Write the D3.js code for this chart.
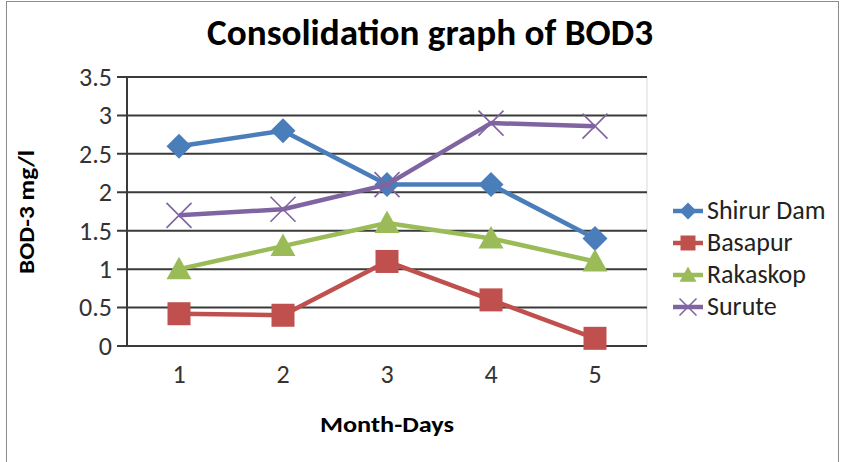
<!DOCTYPE html>
<html>
<head>
<meta charset="utf-8">
<script src="https://cdn.jsdelivr.net/npm/d3@7"></script>
<style>
  body { margin: 0; background: #fff; }
  text { font-family: Calibri, Carlito, "Open Sans", sans-serif; }
</style>
</head>
<body>
<div id="container"></div>
<script>
let w = 844;
let h = 462;

// data
let days = [1, 2, 3, 4, 5];
let shirurDam = [2.6, 2.8, 2.1, 2.1, 1.4];
let basapur = [0.42, 0.4, 1.1, 0.6, 0.1];
let rakaskop = [1.0, 1.3, 1.6, 1.4, 1.1];
let surute = [1.7, 1.78, 2.1, 2.9, 2.86];
let yTicks = [0, 0.5, 1, 1.5, 2, 2.5, 3, 3.5];

let seriesNames = ['Shirur Dam', 'Basapur', 'Rakaskop', 'Surute'];
let seriesColors = ['#4a7ebb', '#c0504d', '#9bbb59', '#8064a2'];
let seriesShapes = ['diamond', 'square', 'triangle', 'cross'];
let seriesValues = [shirurDam, basapur, rakaskop, surute];

let series = seriesNames.map((name, i) => ({
  name: name,
  color: seriesColors[i],
  shape: seriesShapes[i],
  values: seriesValues[i].map((v, j) => ({ day: days[j], value: v }))
}));

let margin = { left: 127, right: 197, top: 77, bottom: 116 };
let font = 'Calibri, Carlito, "Open Sans", sans-serif';

let svg = d3.select('#container').append('svg')
            .attr('width', w)
            .attr('height', h);

// outer chart border
svg.append('rect')
   .attr('x', 6.5).attr('y', 1.5)
   .attr('width', 832).attr('height', 470)
   .attr('fill', 'none')
   .attr('stroke', '#8c8c8c')
   .attr('stroke-width', 1);

let xScale = d3.scaleBand()
               .domain(days)
               .range([margin.left, w - margin.right]);

let yScale = d3.scaleLinear()
               .domain([0, 3.5])
               .range([h - margin.bottom, margin.top]);

// faint plot border on the right
svg.append('line')
   .attr('x1', w - margin.right).attr('x2', w - margin.right)
   .attr('y1', margin.top).attr('y2', h - margin.bottom)
   .attr('stroke', '#d9d9d9');

// gridlines
svg.append('g')
   .selectAll('line')
   .data(yTicks)
   .enter()
   .append('line')
   .attr('x1', margin.left - 10)
   .attr('x2', w - margin.right)
   .attr('y1', d => yScale(d))
   .attr('y2', d => yScale(d))
   .attr('stroke', '#3a3a3a')
   .attr('stroke-width', 2);

// y axis line
svg.append('line')
   .attr('x1', margin.left).attr('x2', margin.left)
   .attr('y1', margin.top).attr('y2', h - margin.bottom)
   .attr('stroke', '#3a3a3a')
   .attr('stroke-width', 2);

let yAxis = d3.axisLeft(yScale)
              .tickValues(yTicks)
              .tickSize(0)
              .tickPadding(15)
              .tickFormat(d => d);

let yg = svg.append('g')
            .attr('transform', `translate(${margin.left},0)`)
            .call(yAxis);
yg.select('.domain').remove();
yg.selectAll('text')
  .style('font-size', '26px')
  .style('font-family', font)
  .attr('fill', '#333');

let xAxis = d3.axisBottom(xScale).tickSize(0).tickPadding(19);
let xg = svg.append('g')
            .attr('transform', `translate(0,${h - margin.bottom})`)
            .call(xAxis);
xg.select('.domain').remove();
xg.selectAll('text')
  .style('font-size', '26px')
  .style('font-family', font)
  .attr('fill', '#333');

// titles
svg.append('text')
   .attr('x', 430).attr('y', 45)
   .attr('text-anchor', 'middle')
   .style('font-size', '37px')
   .attr('font-weight', 'bold')
   .attr('textLength', 446)
   .attr('lengthAdjust', 'spacingAndGlyphs')
   .text('Consolidation graph of BOD3');

svg.append('text')
   .attr('x', 387).attr('y', 432)
   .attr('text-anchor', 'middle')
   .style('font-size', '23px')
   .attr('font-weight', 'bold')
   .attr('textLength', 134)
   .attr('lengthAdjust', 'spacingAndGlyphs')
   .text('Month-Days');

svg.append('text')
   .attr('transform', 'translate(34,212) rotate(-90)')
   .attr('text-anchor', 'middle')
   .style('font-size', '23px')
   .attr('font-weight', 'bold')
   .attr('textLength', 124)
   .attr('lengthAdjust', 'spacingAndGlyphs')
   .text('BOD-3 mg/l');

function drawMarker(sel, shape, color, size) {
  let s = size / 2;
  if (shape === 'cross') {
    sel.append('path')
       .attr('d', `M${-s},${-s}L${s},${s}M${-s},${s}L${s},${-s}`)
       .attr('stroke', color)
       .attr('stroke-width', 1.6)
       .attr('fill', 'none');
  } else if (shape === 'diamond') {
    sel.append('path')
       .attr('d', `M0,${-s}L${s},0L0,${s}L${-s},0Z`)
       .attr('fill', color);
  } else if (shape === 'square') {
    sel.append('rect')
       .attr('x', -s).attr('y', -s)
       .attr('width', size).attr('height', size)
       .attr('fill', color);
  } else {
    sel.append('path')
       .attr('d', `M0,${-s}L${s},${s * 0.8}L${-s},${s * 0.8}Z`)
       .attr('fill', color);
  }
}

let line = d3.line()
             .x(d => xScale(d.day) + xScale.bandwidth() / 2)
             .y(d => yScale(d.value));

let sg = svg.append('g')
            .selectAll('g')
            .data(series)
            .enter()
            .append('g');

sg.append('path')
  .attr('d', d => line(d.values))
  .attr('fill', 'none')
  .attr('stroke', d => d.color)
  .attr('stroke-width', 4.5)
  .attr('stroke-linejoin', 'round');

sg.each(function (d) {
  let g = d3.select(this);
  d.values.forEach(p => {
    let m = g.append('g')
             .attr('transform', `translate(${xScale(p.day) + xScale.bandwidth() / 2},${yScale(p.value)})`);
    drawMarker(m, d.shape, d.color, d.shape === 'square' ? 23 : 25);
  });
});

// legend
let legend = svg.append('g')
                .attr('transform', 'translate(673,211)');

let lg = legend.selectAll('g')
               .data(series)
               .enter()
               .append('g')
               .attr('transform', (d, i) => `translate(0,${i * 32})`);

lg.append('line')
  .attr('x1', 0).attr('x2', 30)
  .attr('stroke', d => d.color)
  .attr('stroke-width', 4.5);

lg.each(function (d) {
  let m = d3.select(this).append('g').attr('transform', 'translate(15,0)');
  drawMarker(m, d.shape, d.color, d.shape === 'square' ? 15 : 17);
});

lg.append('text')
  .attr('x', 34)
  .attr('y', 8)
  .style('font-size', '26px')
  .attr('fill', '#222')
  .text(d => d.name);
</script>
</body>
</html>
